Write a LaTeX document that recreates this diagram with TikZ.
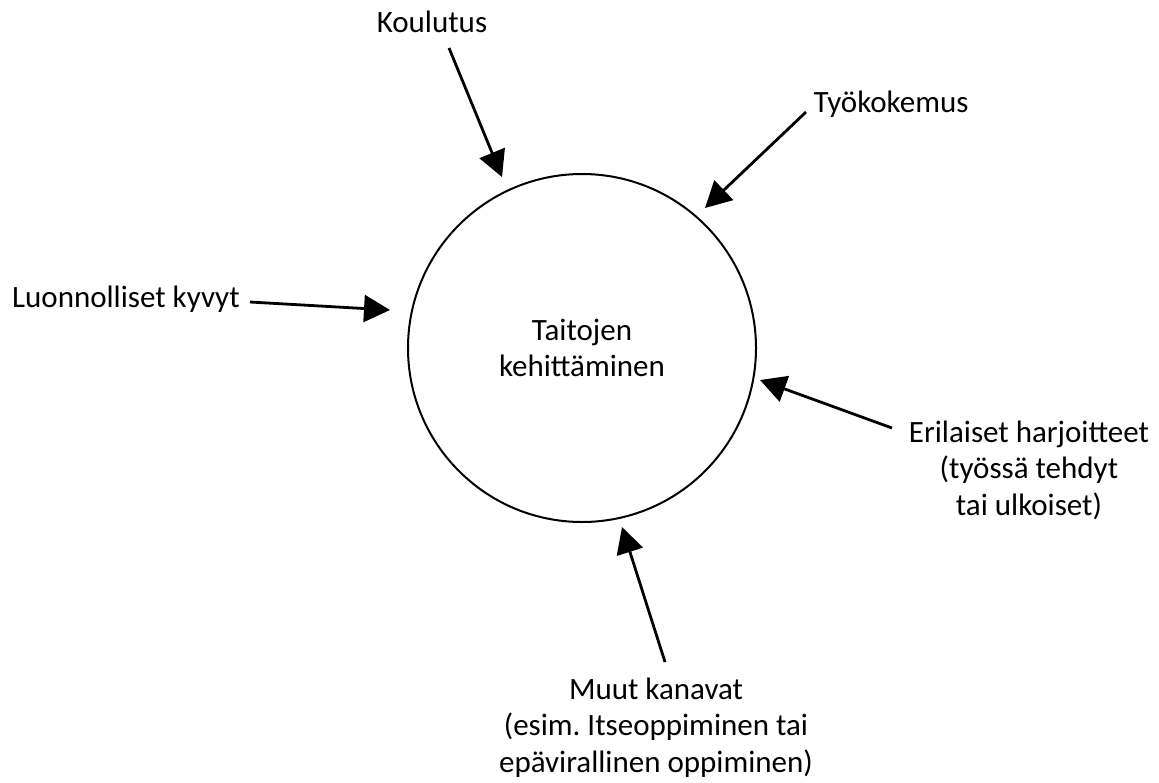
\documentclass[tikz,border=0pt]{standalone}
\usepackage{fontspec}
\setmainfont{Carlito}
\usetikzlibrary{arrows.meta,positioning}
\frenchspacing

\begin{document}
\begin{tikzpicture}[
      x=1pt,
      y=-1pt,
      every node/.style={font=\fontsize{31}{36.5}\selectfont},
      hub/.style={
        circle,
        draw,
        line width=2pt,
        minimum size=348pt,
        inner sep=0pt,
        align=center
      },
      source/.style={
        align=center,
        inner sep=0pt,
        anchor=base
      },
      feed/.style={line width=2.8pt, -{Triangle[length=26pt,width=27pt]}}
    ]
    \useasboundingbox (0,0) rectangle (1159,782);

    % Centre
    \node[hub] (taito) at (582,348) {Taitojen\\kehittäminen};

    % Sources round the centre (base = last line)
    \node[source] (koulutus) at (432,32)  {Koulutus};
    \node[source] (tyo)      at (891,112) {Työkokemus};
    \node[source] (luonto)   at (126,307) {Luonnolliset kyvyt};
    \node[source] (harj)     at (1029,515) {Erilaiset harjoitteet\\(työssä tehdyt\\tai ulkoiset)};
    \node[source] (muut)     at (656,772) {Muut kanavat\\(esim. Itseoppiminen tai\\epävirallinen oppiminen)};

    % Arrow ends: start next to the label, tip just off the circle
    \coordinate (koulutus-out) at (449,48);   \coordinate (koulutus-in) at (502,177);
    \coordinate (tyo-out)      at (806,112);  \coordinate (tyo-in)      at (705,208);
    \coordinate (luonto-out)   at (250,302);  \coordinate (luonto-in)   at (390,310);
    \coordinate (harj-out)     at (892,428);  \coordinate (harj-in)     at (760,380);
    \coordinate (muut-out)     at (665,662);  \coordinate (muut-in)     at (622,527);

    % Arrows
    \draw[feed] (koulutus-out) -- (koulutus-in);
    \draw[feed] (tyo-out) -- (tyo-in);
    \draw[feed] (luonto-out) -- (luonto-in);
    \draw[feed] (harj-out) -- (harj-in);
    \draw[feed] (muut-out) -- (muut-in);

    \end{tikzpicture}
\end{document}
